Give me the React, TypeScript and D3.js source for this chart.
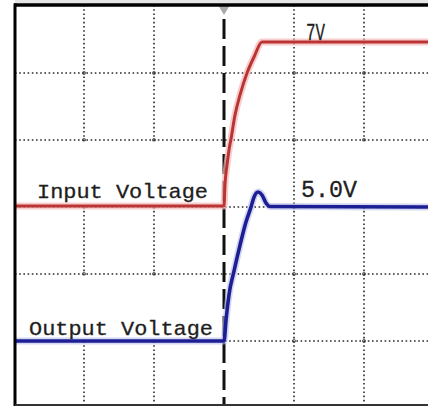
import React from "react";
import * as d3 from "d3";

// time in divisions (trigger at 0), voltage per channel
const inputTime = [-3, 0, 0.014, 0.043, 0.071, 0.1, 0.157, 0.229, 0.329, 0.429, 0.543, 3];
const inputVolt = [0, 0, 0.9, 1.75, 2.39, 2.86, 3.88, 4.74, 5.68, 6.36, 7.0, 7.0];
const outputTime = [-3, 0, 0.029, 0.071, 0.143, 0.229, 0.314, 0.386, 0.429, 0.486, 0.543, 0.6, 0.657, 3];
const outputVolt = [0, 0, 0.78, 1.72, 2.61, 3.58, 4.44, 5.0, 5.37, 5.56, 5.45, 5.15, 5.02, 5.0];
const xGrid = [-2, -1, 1, 2];
const yGrid = [1, 2, 3, 4, 5];
const labels = ["Input Voltage", "Output Voltage", "7V", "5.0V"];

const W = 428;
const H = 408;

export default function App() {
  const xs = d3.scaleLinear().domain([-3, 3]).range([14, 434]);
  const yDiv = d3.scaleLinear().domain([0, 6]).range([408, 6]);
  const yIn = d3.scaleLinear().domain([0, 7]).range([206, 42]);
  const yOut = d3.scaleLinear().domain([0, 5]).range([341, 207]);

  const inPts: [number, number][] = inputTime.map((t, i) => [xs(t), yIn(inputVolt[i])]);
  const outPts: [number, number][] = outputTime.map((t, i) => [xs(t), yOut(outputVolt[i])]);
  const line = d3.line<[number, number]>().curve(d3.curveMonotoneX);
  const inPath = line(inPts) || "";
  const outPath = line(outPts) || "";

  const left = xs(-3) + 1;
  const top = yDiv(6) - 1;
  const bottom = 405;
  const dot = { stroke: "#2a2a2a", strokeWidth: 1.6, strokeDasharray: "1.6 2.6" };
  const txt = { fontFamily: "Liberation Mono", fill: "#1e1e1e", stroke: "#1e1e1e", strokeWidth: 0.3 };

  return (
    <svg
      width={W}
      height={H}
      style={{ position: "absolute", left: 0, top: 0, background: "#fff" }}
    >
      <rect x={0} y={0} width={W} height={H} fill="#fff" />
      <rect x={left} y={0} width={W} height={top - 1} fill="#e6e6e6" />
      <defs>
        <clipPath id="plot">
          <rect x={left} y={top} width={W - left} height={bottom - top} />
        </clipPath>
      </defs>
      <g clipPath="url(#plot)">
        {xGrid.map((t) => (
          <line key={"v" + t} x1={xs(t)} x2={xs(t)} y1={top} y2={bottom} {...dot} />
        ))}
        {yGrid.map((d) => (
          <line key={"h" + d} x1={left} x2={W} y1={yDiv(d)} y2={yDiv(d)} {...dot} />
        ))}
        {xGrid.map((t) =>
          yGrid.map((d) => (
            <circle key={"c" + t + d} cx={xs(t)} cy={yDiv(d)} r={1.6} fill="none" stroke="#444" strokeWidth={0.8} />
          ))
        )}
        {/* label boxes hiding grid */}
        <rect x={left + 2} y={yDiv(4) + 1.5} width={xs(0) - left - 4} height={yDiv(3) - yDiv(4) - 3} fill="#fff" />
        <rect x={left + 2} y={yDiv(2) + 1.5} width={xs(0) - left - 4} height={yDiv(1) - yDiv(2) - 3} fill="#fff" />
        <rect x={xs(1) + 1.5} y={yDiv(4) + 1.5} width={W - xs(1)} height={yDiv(3) - yDiv(4) - 3} fill="#fff" />

        {/* trigger line */}
        <line x1={xs(0)} x2={xs(0)} y1={top} y2={bottom} stroke="#111" strokeWidth={3} strokeDasharray="20 7" strokeDashoffset={-14} />

        <path d={inPath} fill="none" stroke="#f4b8b8" strokeWidth={7} strokeOpacity={0.7} />
        <path d={inPath} fill="none" stroke="#bb3434" strokeWidth={3} />
        <path d={outPath} fill="none" stroke="#b8bde8" strokeWidth={7} strokeOpacity={0.6} />
        <path d={outPath} fill="none" stroke="#1c1e94" strokeWidth={3.6} />

        <text x={37} y={198} fontSize={21} textLength={171} lengthAdjust="spacingAndGlyphs" {...txt}>{labels[0]}</text>
        <text x={29} y={335} fontSize={21} textLength={184} lengthAdjust="spacingAndGlyphs" {...txt}>{labels[1]}</text>
        <text x={306} y={40} fontSize={23} textLength={19} lengthAdjust="spacingAndGlyphs" {...txt}>{labels[2]}</text>
        <text x={301} y={197} fontSize={23} textLength={56} lengthAdjust="spacingAndGlyphs" {...txt}>{labels[3]}</text>
      </g>
      <polygon points={`${xs(0) - 6},${top} ${xs(0) + 6},${top} ${xs(0)},${top + 10}`} fill="#aaa" />
      <line x1={left - 1} x2={W} y1={top} y2={top} stroke="#000" strokeWidth={3.5} />
      <line x1={left} x2={left} y1={top - 1.5} y2={bottom + 1} stroke="#000" strokeWidth={3} />
      <line x1={left} x2={W} y1={bottom} y2={bottom} stroke="#333" strokeWidth={2} />
    </svg>
  );
}
